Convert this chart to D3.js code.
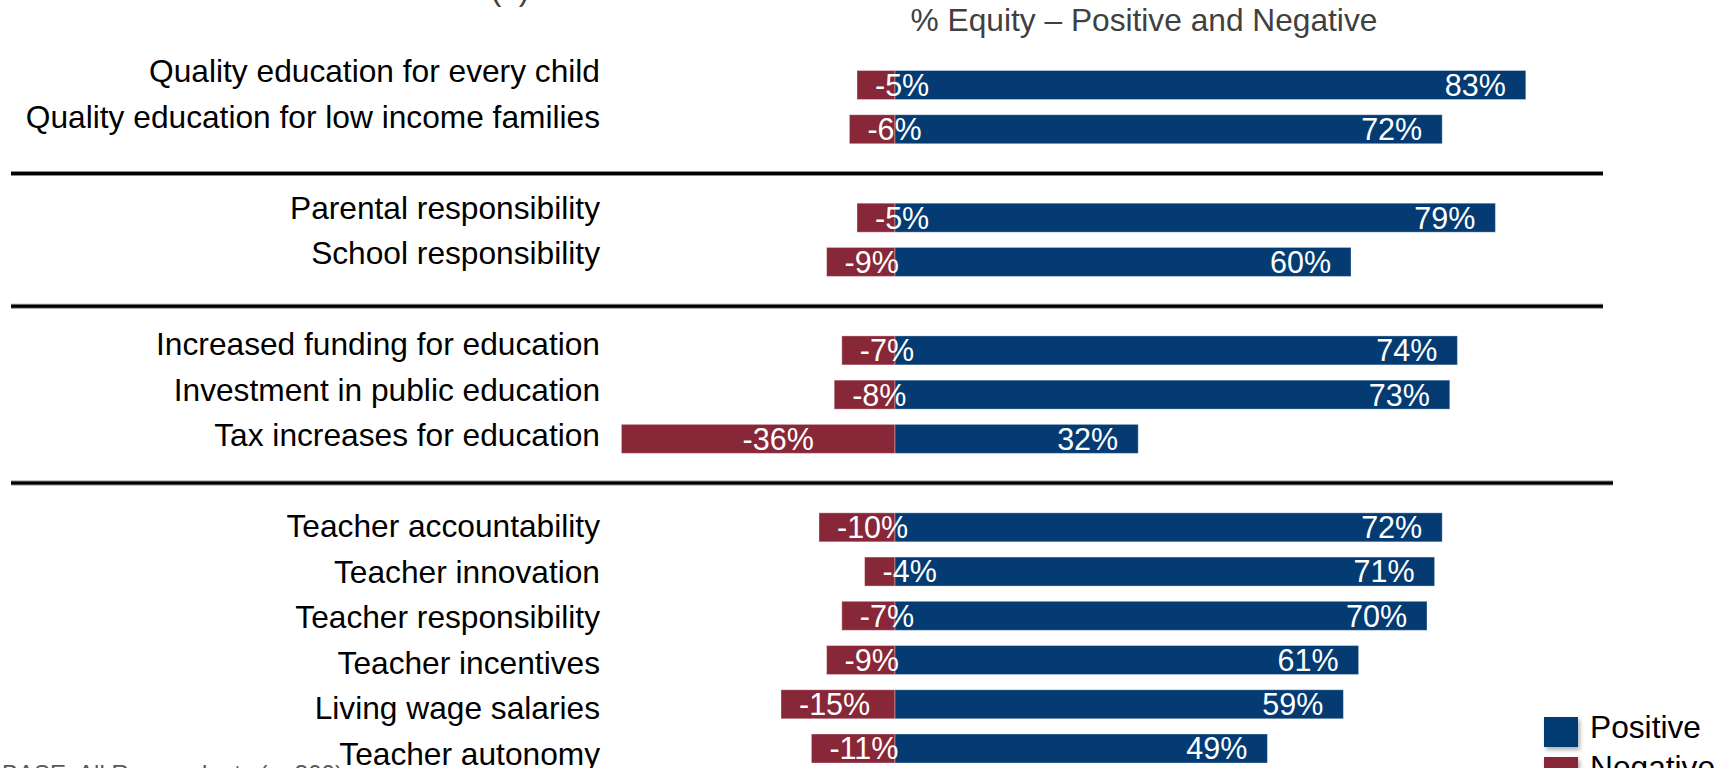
<!DOCTYPE html>
<html>
<head>
<meta charset="utf-8">
<script src="https://cdn.jsdelivr.net/npm/d3@7"></script>
<style>
  body { margin: 0; background: #fff; }
  svg { display: block; font-family: "Liberation Sans", Arial, sans-serif; }
</style>
</head>
<body>
<script>
// data
const categories = [
  "Quality education for every child",
  "Quality education for low income families",
  "Parental responsibility",
  "School responsibility",
  "Increased funding for education",
  "Investment in public education",
  "Tax increases for education",
  "Teacher accountability",
  "Teacher innovation",
  "Teacher responsibility",
  "Teacher incentives",
  "Living wage salaries",
  "Teacher autonomy",
]
const groups = [0, 0, 1, 1, 2, 2, 2, 3, 3, 3, 3, 3, 3]
const positiveValues = [83, 72, 79, 60, 74, 73, 32, 72, 71, 70, 61, 59, 49]
const negativeValues = [-5, -6, -5, -9, -7, -8, -36, -10, -4, -7, -9, -15, -11]
const seriesNames = ["Positive", "Negative"]

function drawChart() {
  const dimensions = {
    width: 1720,
    height: 768,
    zeroX: 895,
    pxPerPoint: 7.6,
    barHeight: 29,
    labelRight: 600,
  }
  const colors = { Positive: "#033b72", Negative: "#882737" }

  // one empty slot between groups
  const slotOf = i => i + groups[i]
  const lastSlot = slotOf(categories.length - 1)

  const rows = categories.map((name, i) => ({
    name,
    slot: slotOf(i),
    pos: positiveValues[i],
    neg: negativeValues[i],
  }))

  const wrapper = d3.select("body")
    .append("svg")
      .attr("width", dimensions.width)
      .attr("height", dimensions.height)

  const defs = wrapper.append("defs")
  defs.append("filter")
      .attr("id", "shadow")
      .attr("x", "-30%").attr("y", "-30%")
      .attr("width", "170%").attr("height", "170%")
    .append("feDropShadow")
      .attr("dx", 2).attr("dy", 3)
      .attr("stdDeviation", 2)
      .attr("flood-color", "#000")
      .attr("flood-opacity", 0.3)

  // scales
  const xScale = d3.scaleLinear()
    .domain([-40, 90])
    .range([
      dimensions.zeroX - 40 * dimensions.pxPerPoint,
      dimensions.zeroX + 90 * dimensions.pxPerPoint,
    ])

  const yBar = d3.scaleLinear()
    .domain([0, lastSlot])
    .range([85, 748.5])

  const yLabel = d3.scaleLinear()
    .domain([0, lastSlot])
    .range([82, 765])

  // title
  wrapper.append("text")
      .attr("x", 1144)
      .attr("y", 31)
      .attr("text-anchor", "middle")
      .attr("fill", "#404040")
      .style("font-size", "31.7px")
      .text("% Equity \u2013 Positive and Negative")

  // previous title line, cut off at the top edge
  wrapper.append("text")
      .attr("x", 510)
      .attr("y", -0.5)
      .attr("text-anchor", "middle")
      .attr("fill", "#404040")
      .style("font-size", "31.7px")
      .text("(n)")

  // group dividers
  const groupIds = d3.range(d3.max(groups))
  const dividerY = g => {
    const lastInGroup = d3.max(rows.filter((d, i) => groups[i] == g), d => d.slot)
    return yBar(lastInGroup + 1)
  }
  const dividerEnd = g => g == groupIds.length - 1 ? 1613 : 1603
  const dividers = wrapper.append("g")
  dividers.selectAll(".divider-bg")
    .data(groupIds)
    .join("line")
      .attr("x1", 11).attr("x2", dividerEnd)
      .attr("y1", dividerY).attr("y2", dividerY)
      .attr("stroke", "#8a8a8a")
      .attr("stroke-width", 5)
  dividers.selectAll(".divider")
    .data(groupIds)
    .join("line")
      .attr("x1", 11).attr("x2", dividerEnd)
      .attr("y1", dividerY).attr("y2", dividerY)
      .attr("stroke", "#000")
      .attr("stroke-width", 3)

  // category labels
  wrapper.append("g").selectAll("text")
    .data(rows)
    .join("text")
      .attr("x", dimensions.labelRight)
      .attr("y", d => yLabel(d.slot))
      .attr("text-anchor", "end")
      .attr("fill", "#000")
      .style("font-size", "31.7px")
      .text(d => d.name)

  // bars
  const bars = wrapper.append("g")
  bars.selectAll(".neg")
    .data(rows)
    .join("rect")
      .attr("class", "neg")
      .attr("x", d => xScale(d.neg))
      .attr("width", d => xScale(0) - xScale(d.neg))
      .attr("y", d => yBar(d.slot) - dimensions.barHeight / 2)
      .attr("height", dimensions.barHeight)
      .attr("fill", colors.Negative)
      .attr("stroke", "rgba(255,255,255,0.35)")
      .attr("stroke-width", 1)

  bars.selectAll(".pos")
    .data(rows)
    .join("rect")
      .attr("class", "pos")
      .attr("x", xScale(0))
      .attr("width", d => xScale(d.pos) - xScale(0))
      .attr("y", d => yBar(d.slot) - dimensions.barHeight / 2)
      .attr("height", dimensions.barHeight)
      .attr("fill", colors.Positive)
      .attr("stroke", "rgba(255,255,255,0.35)")
      .attr("stroke-width", 1)

  // value labels
  const valueSize = 30.5
  const valueY = d => yBar(d.slot) + valueSize * 0.358

  bars.selectAll(".pos-label")
    .data(rows)
    .join("text")
      .attr("x", d => xScale(d.pos) - 20)
      .attr("y", valueY)
      .attr("text-anchor", "end")
      .attr("fill", "#fff")
      .style("font-size", valueSize + "px")
      .text(d => d.pos + "%")

  bars.selectAll(".neg-label")
    .data(rows)
    .join("text")
      .attr("x", d => {
        const w = xScale(0) - xScale(d.neg)
        return w > 150 ? (xScale(d.neg) + xScale(0)) / 2 + 20 : xScale(d.neg) + 18
      })
      .attr("y", valueY)
      .attr("text-anchor", d => (xScale(0) - xScale(d.neg)) > 150 ? "middle" : "start")
      .attr("fill", "#fff")
      .style("font-size", valueSize + "px")
      .text(d => d.neg + "%")

  // legend
  const legend = wrapper.append("g")
    .attr("transform", "translate(1544, 717)")
  const legendItems = legend.selectAll("g")
    .data(seriesNames)
    .join("g")
      .attr("transform", (d, i) => `translate(0, ${i * 40})`)
  legendItems.append("rect")
      .attr("width", 34)
      .attr("height", 30)
      .attr("fill", d => colors[d])
      .attr("filter", "url(#shadow)")
  legendItems.append("text")
      .attr("x", 46)
      .attr("y", 21)
      .attr("fill", "#000")
      .style("font-size", "31.7px")
      .text(d => d)

  // base note (cut off at the bottom edge)
  wrapper.append("text")
      .attr("x", 2)
      .attr("y", 782)
      .attr("fill", "#595959")
      .style("font-size", "24px")
      .text("BASE: All Respondents (n=300)")
}
drawChart()
</script>
</body>
</html>
